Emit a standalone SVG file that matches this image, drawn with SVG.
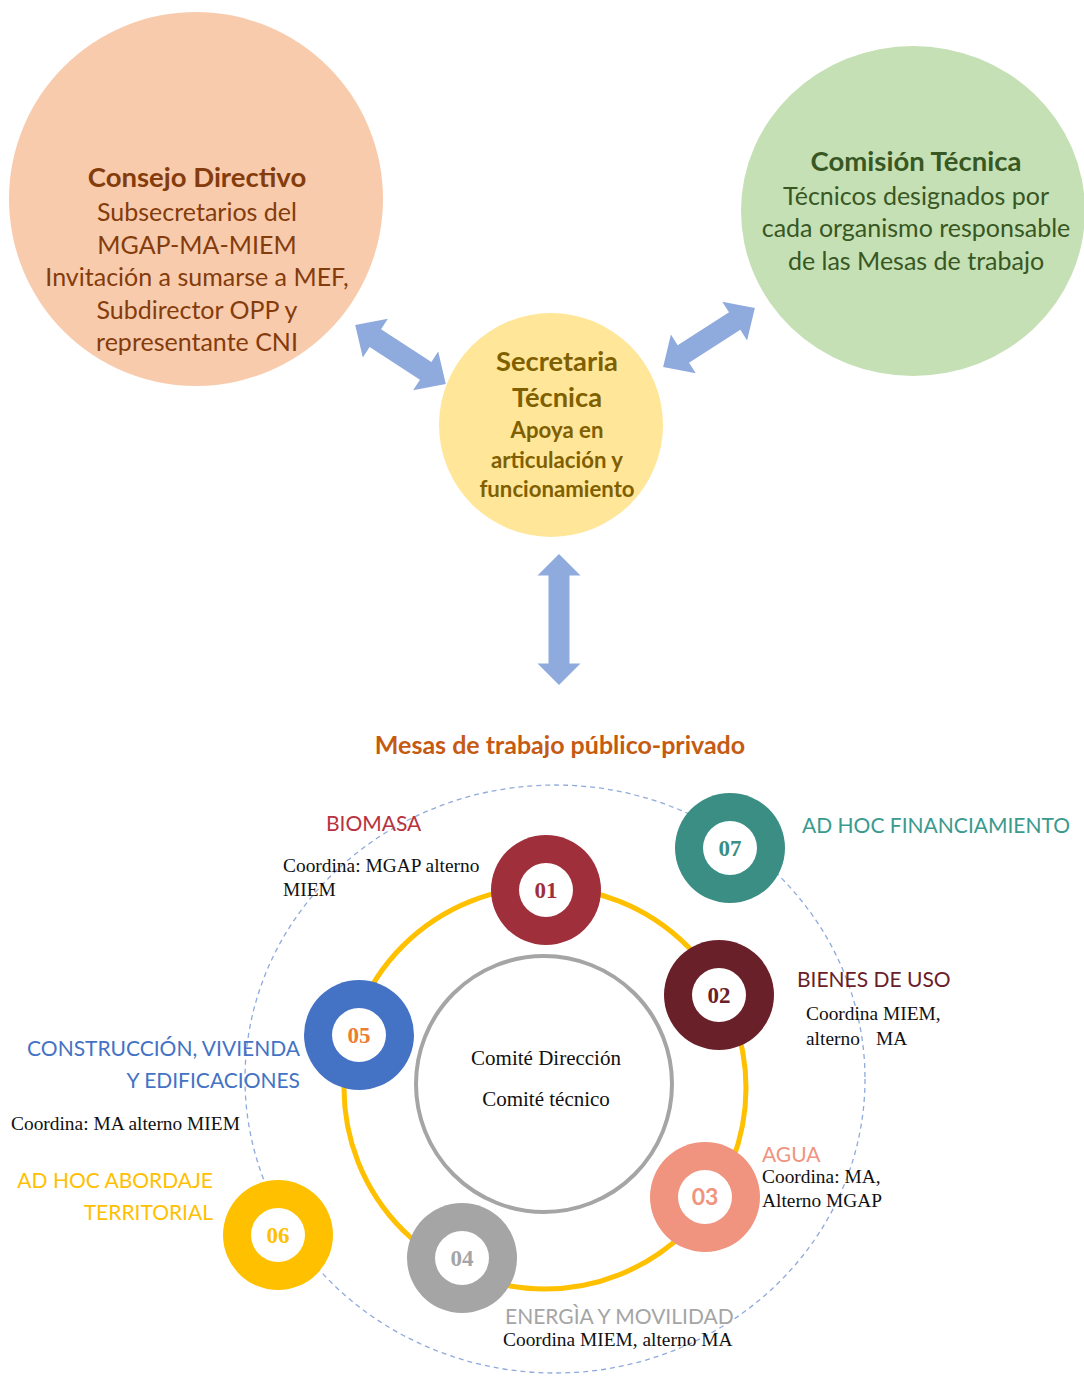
<svg xmlns="http://www.w3.org/2000/svg" width="1084" height="1376" viewBox="0 0 1084 1376">
<style>
.sans{font-family:Lato,"Open Sans","Liberation Sans",sans-serif}
.serif{font-family:"Liberation Serif","Times New Roman",serif}
.c{text-anchor:middle}
.e{text-anchor:end}
.b{font-weight:bold}
.top{font-size:25px}
.ttl{font-size:27.5px;font-weight:bold}
.lbl{font-size:21px}
.crd{font-size:19.4px;fill:#111}
.num{font-size:23px;font-weight:bold;text-anchor:middle}
.arrow{fill:#8FAADC}
.white{fill:#fff}
</style>
<rect width="1084" height="1376" fill="#fff"/>

<g id="consejo-directivo">
<circle cx="196" cy="199" r="187" fill="#F8CBAD"/>
<text class="sans c" fill="#843C0C"><tspan class="ttl" x="197" y="187">Consejo Directivo</tspan><tspan class="top" x="197" y="221">Subsecretarios del</tspan><tspan class="top" x="197" y="254">MGAP-MA-MIEM</tspan><tspan class="top" x="197" y="286">Invitación a sumarse a MEF,</tspan><tspan class="top" x="197" y="319">Subdirector OPP y</tspan><tspan class="top" x="197" y="351">representante CNI</tspan></text>
</g>

<g id="comision-tecnica">
<ellipse cx="913" cy="211" rx="172" ry="165" fill="#C5E0B4"/>
<text class="sans c" fill="#385723"><tspan class="ttl" x="916" y="171">Comisión Técnica</tspan><tspan class="top" x="916" y="205">Técnicos designados por</tspan><tspan class="top" x="916" y="237">cada organismo responsable</tspan><tspan class="top" x="916" y="270">de las Mesas de trabajo</tspan></text>
</g>

<g id="secretaria-tecnica">
<circle cx="551" cy="425" r="112" fill="#FFE699"/>
<text class="sans c b" fill="#7F6000"><tspan x="557" y="371" font-size="27.3">Secretaria</tspan><tspan x="557" y="407" font-size="27.3">Técnica</tspan><tspan x="557" y="438" font-size="22.2">Apoya en</tspan><tspan x="557" y="468" font-size="22.2">articulación y</tspan><tspan x="557" y="497" font-size="22.2">funcionamiento</tspan></text>
</g>

<g id="connectors">
<polygon class="arrow" transform="translate(400.5,354.5) rotate(33)" points="-54,0 -30,-23 -30,-10.5 30,-10.5 30,-23 54,0 30,23 30,10.5 -30,10.5 -30,23"/>
<polygon class="arrow" transform="translate(709,337.5) rotate(-32.7)" points="-54.5,0 -30.5,-23 -30.5,-10.5 30.5,-10.5 30.5,-23 54.5,0 30.5,23 30.5,10.5 -30.5,10.5 -30.5,23"/>
<polygon class="arrow" transform="translate(559,619.5) rotate(90)" points="-65.5,0 -44,-21.5 -44,-10.5 44,-10.5 44,-21.5 65.5,0 44,21.5 44,10.5 -44,10.5 -44,21.5"/>
</g>

<g id="mesas-title">
<text class="sans c b" x="560" y="754" font-size="25" fill="#C55A11">Mesas de trabajo público-privado</text>
</g>

<g id="mesas-ring">
<ellipse cx="555" cy="1079" rx="310" ry="294" fill="none" stroke="#8FAADC" stroke-width="1.3" stroke-dasharray="5 4"/>
<circle cx="545" cy="1088" r="201" fill="none" stroke="#FFC000" stroke-width="5"/>
</g>

<g id="comite">
<circle cx="544" cy="1084" r="128" fill="#fff" stroke="#A5A5A5" stroke-width="4"/>
<text class="serif c" font-size="21" fill="#111"><tspan x="546" y="1065">Comité Dirección</tspan><tspan x="546" y="1106">Comité técnico</tspan></text>
</g>

<g id="mesa-01">
<circle cx="546" cy="890" r="55" fill="#9E2F3B"/>
<circle class="white" cx="546" cy="890" r="27"/>
<text class="serif num" x="546" y="898" fill="#9E2F3B">01</text>
<text class="sans lbl" x="326" y="831" fill="#B83240">BIOMASA</text>
<text class="serif crd"><tspan x="283" y="872">Coordina: MGAP alterno</tspan><tspan x="283" y="896">MIEM</tspan></text>
</g>

<g id="mesa-07">
<circle cx="730" cy="848" r="55" fill="#3A8E84"/>
<circle class="white" cx="730" cy="848" r="27"/>
<text class="serif num" x="730" y="856" fill="#3A8E84">07</text>
<text class="sans lbl" x="802" y="833" fill="#3A9A8E">AD HOC FINANCIAMIENTO</text>
</g>

<g id="mesa-02">
<circle cx="719" cy="995" r="55" fill="#6A2028"/>
<circle class="white" cx="719" cy="995" r="27"/>
<text class="serif num" x="719" y="1003" fill="#6A2028">02</text>
<text class="sans lbl" x="797" y="987" fill="#6A2028">BIENES DE USO</text>
<text class="serif crd"><tspan x="806" y="1020">Coordina MIEM,</tspan><tspan x="806" y="1045">alterno</tspan><tspan x="876" y="1045">MA</tspan></text>
</g>

<g id="mesa-05">
<circle cx="359" cy="1035" r="55" fill="#4472C4"/>
<circle class="white" cx="359" cy="1035" r="27"/>
<text class="serif num" x="359" y="1043" fill="#ED7D31">05</text>
<text class="sans lbl e" fill="#4472C4"><tspan x="300" y="1056">CONSTRUCCIÓN, VIVIENDA</tspan><tspan x="300" y="1088">Y EDIFICACIONES</tspan></text>
<text class="serif crd" x="11" y="1130">Coordina: MA alterno MIEM</text>
</g>

<g id="mesa-06">
<circle cx="278" cy="1235" r="55" fill="#FFC000"/>
<circle class="white" cx="278" cy="1235" r="27"/>
<text class="serif num" x="278" y="1243" fill="#FFC000">06</text>
<text class="sans lbl e" fill="#FFC000"><tspan x="213" y="1188">AD HOC ABORDAJE</tspan><tspan x="213" y="1220">TERRITORIAL</tspan></text>
</g>

<g id="mesa-04">
<circle cx="462" cy="1258" r="55" fill="#A5A5A5"/>
<circle class="white" cx="462" cy="1258" r="27"/>
<text class="serif num" x="462" y="1266" fill="#A5A5A5">04</text>
<text class="sans lbl" x="505" y="1324" fill="#A5A5A5">ENERGÌA Y MOVILIDAD</text>
<text class="serif crd" x="503" y="1346">Coordina MIEM, alterno MA</text>
</g>

<g id="mesa-03">
<circle cx="705" cy="1197" r="55" fill="#F09480"/>
<circle class="white" cx="705" cy="1197" r="27"/>
<text class="sans num" x="705" y="1205" fill="#F09480">03</text>
<text class="sans lbl" x="762" y="1162" fill="#F09480">AGUA</text>
<text class="serif crd"><tspan x="762" y="1183">Coordina: MA,</tspan><tspan x="762" y="1207">Alterno MGAP</tspan></text>
</g>
</svg>
